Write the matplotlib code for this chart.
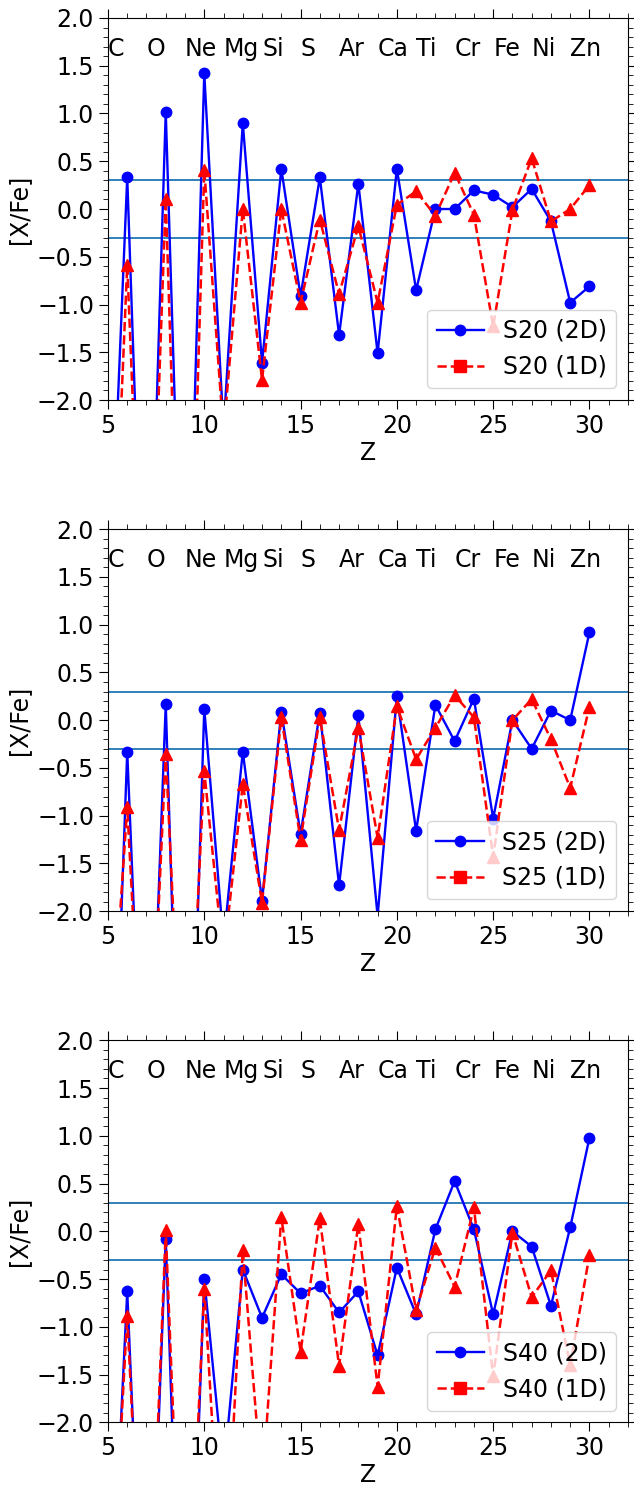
import numpy as np
import matplotlib
matplotlib.use('Agg')
from matplotlib import pyplot as plt
from matplotlib.lines import Line2D
from matplotlib.ticker import MultipleLocator

# atomic number 5 (B) .. 30 (Zn)
Z = np.arange(5, 31)

elements = ['C', 'O', 'Ne', 'Mg', 'Si', 'S', 'Ar', 'Ca', 'Ti', 'Cr', 'Fe', 'Ni', 'Zn']
element_Z = [6, 8, 10, 12, 14, 16, 18, 20, 22, 24, 26, 28, 30]

s20_2d = [-4.5, 0.33, -5.5, 1.02, -5.5, 1.42, -2.3, 0.90, -1.61, 0.42, -0.91, 0.33, -1.32,
          0.265, -1.51, 0.42, -0.85, 0.0, 0.0, 0.195, 0.15, 0.02, 0.21, -0.13, -0.98, -0.81]
s20_1d = [-5.3, -0.59, -5.5, 0.105, -6.2, 0.41, -2.35, 0.0, -1.79, 0.0, -0.98, -0.11, -0.89,
          -0.18, -0.98, 0.045, 0.185, -0.07, 0.38, -0.06, -1.23, -0.01, 0.53, -0.13, 0.0, 0.25]

s25_2d = [-5.9, -0.33, -5.2, 0.17, -6.3, 0.12, -2.33, -0.33, -1.89, 0.09, -1.19, 0.08, -1.73,
          0.05, -2.05, 0.25, -1.16, 0.16, -0.22, 0.225, -1.03, 0.0, -0.30, 0.10, 0.0, 0.92]
s25_1d = [-3.9, -0.91, -4.7, -0.35, -4.6, -0.535, -2.5, -0.67, -1.91, 0.03, -1.25, 0.03, -1.15,
          -0.08, -1.23, 0.145, -0.41, -0.08, 0.26, 0.03, -1.43, 0.0, 0.22, -0.20, -0.71, 0.14]

s40_2d = [-4.8, -0.63, -5.3, -0.085, -5.9, -0.50, -2.54, -0.40, -0.905, -0.45, -0.65, -0.57, -0.85,
          -0.63, -1.30, -0.38, -0.87, 0.02, 0.525, 0.02, -0.87, 0.0, -0.16, -0.78, 0.04, 0.98]
s40_1d = [-4.6, -0.885, -5.0, 0.01, -5.0, -0.60, -4.0, -0.20, -2.7, 0.15, -1.26, 0.135, -1.41,
          0.075, -1.63, 0.265, -0.825, -0.17, -0.58, 0.25, -1.52, -0.015, -0.69, -0.41, -1.40, -0.25]

models = [('S20', s20_2d, s20_1d), ('S25', s25_2d, s25_1d), ('S40', s40_2d, s40_1d)]

fs = 17
plt.rcParams['font.size'] = fs
plt.rcParams['font.family'] = 'DejaVu Sans'

fig, axes = plt.subplots(3, 1, figsize=(6.34, 14.87), dpi=100)
fig.subplots_adjust(left=0.1703, right=0.9905, top=0.9879, bottom=0.0435, hspace=0.338)

for ax, (name, y2d, y1d) in zip(axes, models):
    ax.plot(Z, y2d, 'o-', color='blue', lw=1.7, ms=7.5, zorder=2)
    ax.plot(Z, y1d, '^--', color='red', lw=1.8, ms=8, zorder=3)
    ax.axhline(0.3, color='#1f77b4', lw=1.3, zorder=1)
    ax.axhline(-0.3, color='#1f77b4', lw=1.3, zorder=1)
    for el, z in zip(elements, element_Z):
        ax.text(z - 1, 1.6, el, fontsize=fs)

    ax.set_xlim(5, 32)
    ax.set_ylim(-2, 2)
    ax.xaxis.set_major_locator(MultipleLocator(5))
    ax.xaxis.set_minor_locator(MultipleLocator(1))
    ax.yaxis.set_major_locator(MultipleLocator(0.5))
    ax.yaxis.set_minor_locator(MultipleLocator(0.1))
    ax.tick_params(which='both', top=True, right=True, direction='out', labelsize=fs)
    ax.tick_params(which='major', length=6.5)
    ax.tick_params(which='minor', length=3.5)
    ax.set_xlabel('Z', fontsize=fs, labelpad=2)
    ax.set_ylabel('[X/Fe]', fontsize=fs)

    handles = [Line2D([], [], color='blue', marker='o', ls='-', lw=1.7, ms=7.5),
               Line2D([], [], color='red', marker='s', ls='--', lw=1.8, ms=8)]
    ax.legend(handles, [name + ' (2D)', name + ' (1D)'], loc='lower right', fontsize=fs)

plt.savefig('out.png', dpi=100)
